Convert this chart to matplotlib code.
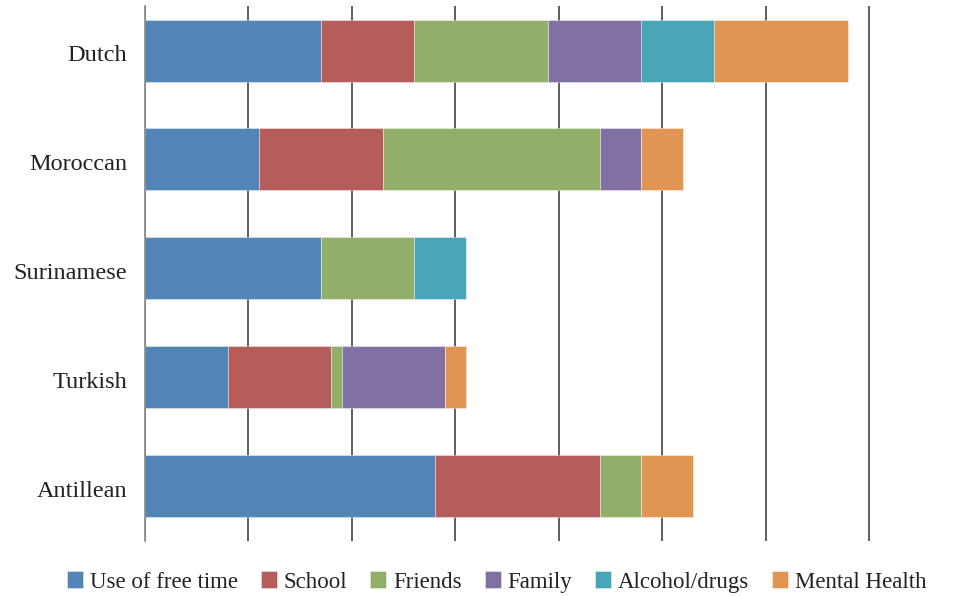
import matplotlib
matplotlib.use("Agg")
import matplotlib.pyplot as plt
import matplotlib.transforms as mtransforms
import numpy as np

groups = ["Dutch", "Moroccan", "Surinamese", "Turkish", "Antillean"]
series_names = ["Use of free time", "School", "Friends", "Family", "Alcohol/drugs", "Mental Health"]
use_of_free_time = [17, 11, 17, 8, 28]
school = [9, 12, 0, 10, 16]
friends = [13, 21, 9, 1, 4]
family = [9, 4, 0, 10, 0]
alcohol_drugs = [7, 0, 5, 0, 0]
mental_health = [13, 4, 0, 2, 5]
x_ticks = [0, 10, 20, 30, 40, 50, 60, 70]

colors = ["#5085B5", "#B55D5A", "#92AF69", "#8170A2", "#48A6B8", "#E09553"]

plt.rcParams["font.family"] = ["Liberation Serif", "DejaVu Serif"]

fig = plt.figure(figsize=(9.72, 5.96), dpi=100)
ax = fig.add_axes([145 / 972, 1 - 541 / 596, (870 - 145) / 972, (541 - 6) / 596])

values = [use_of_free_time, school, friends, family, alcohol_drugs, mental_health]
y = np.arange(len(groups))
left = np.zeros(len(groups))
for name, vals, c in zip(series_names, values, colors):
    vals = np.array(vals, dtype=float)
    ax.barh(y, vals, left=left, height=0.57, color=c, label=name,
            edgecolor=(1, 1, 1, 0.45), linewidth=0.6, zorder=3)
    left += vals

ax.set_xlim(0, 70.1)
ax.set_ylim(4.505, -0.409)
ax.set_xticks(x_ticks)
ax.set_xticklabels([])
ax.tick_params(axis="x", length=0)
ax.grid(axis="x", color="#333333", linewidth=1.1, zorder=0)
ax.grid(axis="y", visible=False)
for s in ["top", "right", "bottom"]:
    ax.spines[s].set_visible(False)
ax.spines["left"].set_color("#888888")
ax.spines["left"].set_linewidth(1.2)
ax.spines["left"].set_zorder(4)

ax.set_yticks(y)
ax.set_yticklabels(groups, fontsize=17.5, color="#222222")
ax.tick_params(axis="y", length=0, pad=13)
shift = mtransforms.ScaledTranslation(0, -2 / 72, fig.dpi_scale_trans)
for lbl in ax.get_yticklabels():
    lbl.set_transform(lbl.get_transform() + shift)

handles, labels = ax.get_legend_handles_labels()
leg = fig.legend(handles, labels, loc="center", bbox_to_anchor=(497 / 972, 1 - 582 / 596),
                 ncol=6, frameon=False, fontsize=16.5, handlelength=0.7, handleheight=0.7,
                 handletextpad=0.3, columnspacing=1.0, borderaxespad=0)
for t in leg.get_texts():
    t.set_color("#222222")

fig.savefig("out.png", dpi=100)
